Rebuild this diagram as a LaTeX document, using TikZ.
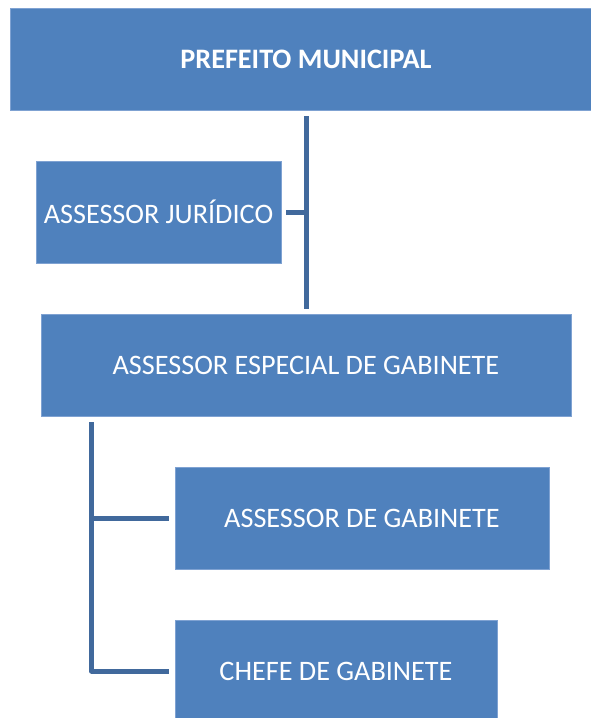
\documentclass[tikz,border=0pt]{standalone}
\usepackage{fontspec}
\setmainfont{Carlito}
\usetikzlibrary{calc}
\definecolor{boxfill}{HTML}{4F81BD}
\definecolor{boxedge}{HTML}{7FA2D2}
\definecolor{linecol}{HTML}{41699C}
\tikzset{
  orgbox/.style={fill=boxfill, draw=boxedge, line width=0.8pt, inner sep=0pt,
    minimum height=102pt, text=white, font=\fontsize{28.2}{34}\selectfont},
  conn/.style={draw=linecol, line width=5pt, line join=round}
}
\begin{document}
\begin{tikzpicture}[x=1pt, y=-1pt]
\useasboundingbox (0,0) rectangle (590,718);
\node[orgbox, minimum width=592pt, font=\fontsize{28.2}{34}\selectfont\bfseries] (pm) at (306,59) {PREFEITO MUNICIPAL};
\node[orgbox, minimum width=245pt] (jur) at (158.5,212) {ASSESSOR JURÍDICO};
\node[orgbox, minimum width=530pt] (esp) at (306,365) {ASSESSOR ESPECIAL DE GABINETE};
\node[orgbox, minimum width=374pt] (gab) at (362,518) {ASSESSOR DE GABINETE};
\node[orgbox, minimum width=322pt] (chefe) at (336,671) {CHEFE DE GABINETE};
% main trunk
\draw[conn] ([yshift=-6pt]pm.south) -- ([yshift=5pt]esp.north);
\draw[conn] ([xshift=5pt]jur.east) -- (jur.east -| pm.south);
% lower trunk
\coordinate (t1) at ($(esp.south west)+(51,6)$);
\draw[conn] (t1) |- ([xshift=-6pt]chefe.west);
\draw[conn] (t1 |- gab.west) -- ([xshift=-6pt]gab.west);
\end{tikzpicture}
\end{document}
